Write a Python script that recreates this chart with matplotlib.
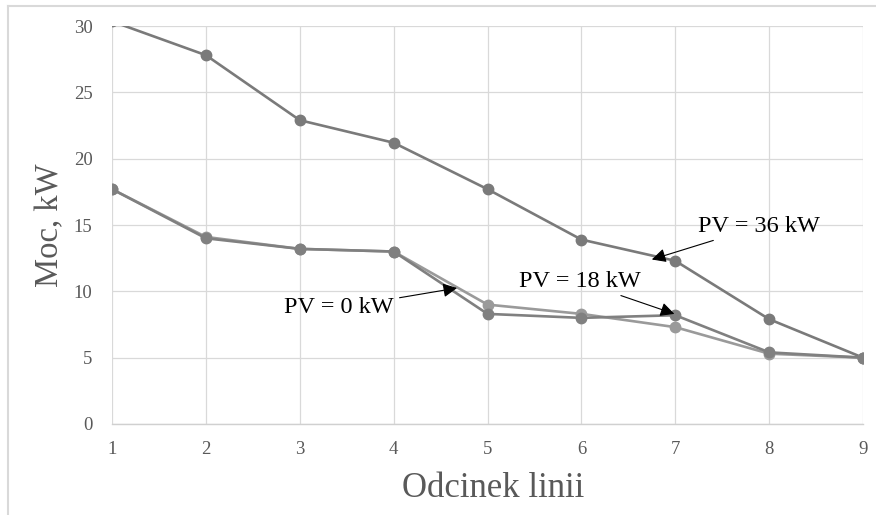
import matplotlib
matplotlib.use("Agg")
import matplotlib.pyplot as plt
from matplotlib.lines import Line2D

# Line section numbers and power values
segments = [1, 2, 3, 4, 5, 6, 7, 8, 9]
power_pv0 = [17.7, 14.1, 13.2, 13.0, 9.0, 8.3, 7.3, 5.3, 5.0]
power_pv18 = [17.7, 14.0, 13.2, 13.0, 8.3, 8.0, 8.2, 5.4, 5.0]
power_pv36 = [30.35, 27.8, 22.9, 21.2, 17.7, 13.9, 12.3, 7.9, 5.0]

y_ticks = [0, 5, 10, 15, 20, 25, 30]
x_label = "Odcinek linii"
y_label = "Moc, kW"
label_pv0 = "PV = 0 kW"
label_pv18 = "PV = 18 kW"
label_pv36 = "PV = 36 kW"

plt.rcParams["font.family"] = ["Liberation Serif", "DejaVu Serif"]

fig = plt.figure(figsize=(8.76, 5.15), dpi=100)
ax = fig.add_axes([0.1279, 0.1767, 0.8573, 0.7728])

# outer chart frame (top and left edges)
frame_c = "#d9d9d9"
fig.add_artist(Line2D([8 / 876, 1.0], [1 - 6 / 515, 1 - 6 / 515],
                      transform=fig.transFigure, color=frame_c, lw=1.5))
fig.add_artist(Line2D([8 / 876, 8 / 876], [0.0, 1 - 6 / 515],
                      transform=fig.transFigure, color=frame_c, lw=1.5))

style = dict(lw=1.9, marker="o", markersize=7.5, clip_on=True, zorder=3)
ax.plot(segments, power_pv36, color="#7a7a7a", **style)
ax.plot(segments, power_pv0, color="#9a9a9a", **style)
ax.plot(segments, power_pv18, color="#808080", **style)

ax.set_xlim(1, 9)
ax.set_ylim(0, 30)
ax.set_xticks(segments)
ax.set_yticks(y_ticks)
ax.grid(True, color="#d9d9d9", lw=0.9, zorder=0)
for side in ("top", "right", "left"):
    ax.spines[side].set_visible(False)
ax.spines["bottom"].set_color("#d0d0d0")
ax.spines["bottom"].set_linewidth(1.0)
ax.tick_params(length=0, labelsize=13.5, labelcolor="#595959")
ax.tick_params(axis="x", pad=12)
ax.tick_params(axis="y", pad=14)

ax.set_xlabel(x_label, fontsize=25, color="#595959", va="center")
ax.xaxis.set_label_coords(0.507, -0.161)
ax.set_ylabel(y_label, fontsize=23.5, color="#595959", va="center")
ax.yaxis.set_label_coords(-0.083, 0.5)

arrow = dict(arrowstyle="-|>", color="black", lw=0.8, mutation_scale=21,
             shrinkA=2, shrinkB=0)
ax.annotate(label_pv36, xy=(6.75, 12.4), xytext=(7.89, 14.9),
            fontsize=17.5, color="black", ha="center", va="center",
            arrowprops=arrow)
ax.annotate(label_pv18, xy=(6.99, 8.3), xytext=(5.98, 10.75),
            fontsize=17.5, color="black", ha="center", va="center",
            arrowprops=arrow)
ax.annotate(label_pv0, xy=(4.675, 10.25), xytext=(3.42, 8.75),
            fontsize=17.5, color="black", ha="center", va="center",
            arrowprops=arrow)

fig.savefig("out.png", dpi=100, facecolor="white")
